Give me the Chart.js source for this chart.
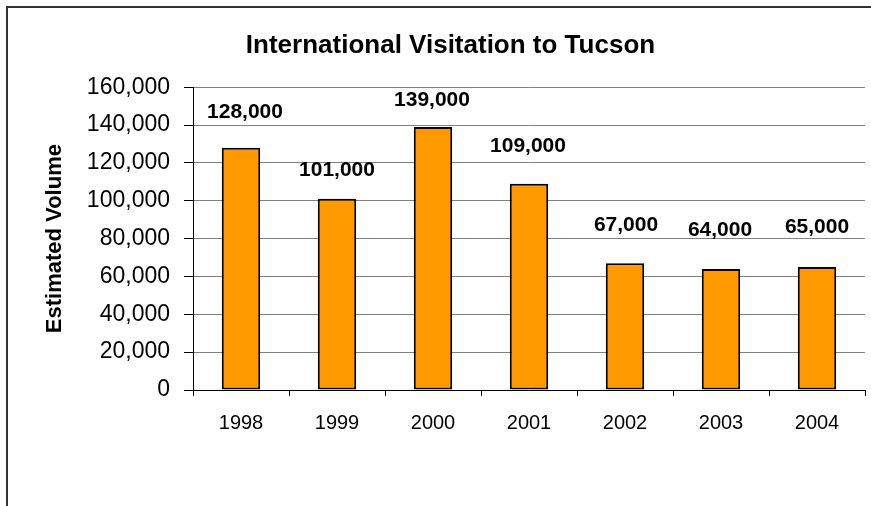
<!DOCTYPE html>
<html>
<head>
  <title>International Visitation to Tucson</title>
  <script src="https://cdn.jsdelivr.net/npm/chart.js"></script>
  <style>
    html, body {
      margin: 0;
      padding: 0;
      background: #ffffff;
      overflow: hidden;
    }

    .wrap {
      position: relative;
      width: 871px;
      height: 506px;
      overflow: hidden;
    }

    /* marco exterior del gráfico (solo se ven arriba y a la izquierda) */
    .frame {
      position: absolute;
      left: 6px;
      top: 6px;
      width: 920px;
      height: 560px;
      border: 2px solid #333333;
    }

    canvas {
      position: absolute;
      left: 0;
      top: 0;
    }
  </style>
</head>
<body>
  <div class="wrap">
    <div class="frame"></div>
    <canvas id="barras" width="871" height="506"></canvas>
  </div>

  <script>
    var years = ['1998', '1999', '2000', '2001', '2002', '2003', '2004'];
    var visitors = [128000, 101000, 139000, 109000, 67000, 64000, 65000];
    var yTicks = [0, 20000, 40000, 60000, 80000, 100000, 120000, 140000, 160000];

    // separación de cada etiqueta sobre su barra (px)
    var labelLift = [36, 29, 27, 38, 38, 39, 40];
    var labelShift = [4, 0, -1, -1, 1, -1, 0];

    var fuente = 'Liberation Sans, Arial, sans-serif';

    function miles(v) {
      return Number(v).toLocaleString('en-US');
    }

    // etiquetas de valor encima de las barras
    var etiquetas = {
      id: 'etiquetas',
      afterDatasetsDraw: function(chart) {
        var ctx = chart.ctx;
        var meta = chart.getDatasetMeta(0);
        ctx.save();
        ctx.font = 'bold 21px ' + fuente;
        ctx.fillStyle = '#000000';
        ctx.textAlign = 'center';
        ctx.textBaseline = 'middle';
        meta.data.forEach(function(bar, i) {
          ctx.fillText(miles(visitors[i]), bar.x + labelShift[i], bar.y - labelLift[i]);
        });
        ctx.restore();
      }
    };

    var ctx = document.getElementById('barras').getContext('2d');
    var myChart = new Chart(ctx, {
      type: 'bar',
      data: {
        labels: years,
        datasets: [{
          label: 'Estimated Volume',
          data: visitors,
          backgroundColor: '#FF9900',
          borderColor: '#000000',
          borderWidth: 2,
          borderSkipped: false,
          barPercentage: 0.4,
          categoryPercentage: 1.0
        }]
      },
      options: {
        responsive: false,
        animation: false,
        layout: {
          padding: { left: 36, right: 6, top: 0, bottom: 0 }
        },
        plugins: {
          legend: { display: false },
          tooltip: { enabled: false },
          title: {
            display: true,
            text: 'International Visitation to Tucson',
            color: '#000000',
            font: { family: fuente, size: 26, weight: 'bold', lineHeight: 1.2 },
            padding: { top: 30, bottom: 26 }
          }
        },
        scales: {
          x: {
            offset: true,
            grid: {
              display: true,
              offset: true,
              drawOnChartArea: true,
              color: function(c) {
                return c.index === years.length ? '#808080' : 'rgba(0,0,0,0)';
              },
              tickColor: '#000000',
              tickLength: 6
            },
            border: { color: '#000000', width: 1 },
            ticks: {
              color: '#000000',
              font: { family: fuente, size: 20 },
              padding: 15,
              maxRotation: 0,
              minRotation: 0,
              autoSkip: false
            },
            afterFit: function(scale) {
              scale.height = 116;
            }
          },
          y: {
            min: 0,
            max: 160000,
            afterBuildTicks: function(scale) {
              scale.ticks = yTicks.map(function(v) { return { value: v }; });
            },
            grid: {
              color: '#808080',
              tickColor: '#000000',
              tickLength: 9
            },
            border: { color: '#000000', width: 1 },
            ticks: {
              color: '#000000',
              font: { family: fuente, size: 23 },
              padding: 14,
              callback: function(v) { return miles(v); }
            },
            title: {
              display: true,
              text: 'Estimated Volume',
              color: '#000000',
              font: { family: fuente, size: 22, weight: 'bold', lineHeight: 1.2 },
              padding: { top: 6, bottom: 0 }
            },
            afterFit: function(scale) {
              scale.width = 157;
            }
          }
        }
      },
      plugins: [etiquetas]
    });
  </script>
</body>
</html>
